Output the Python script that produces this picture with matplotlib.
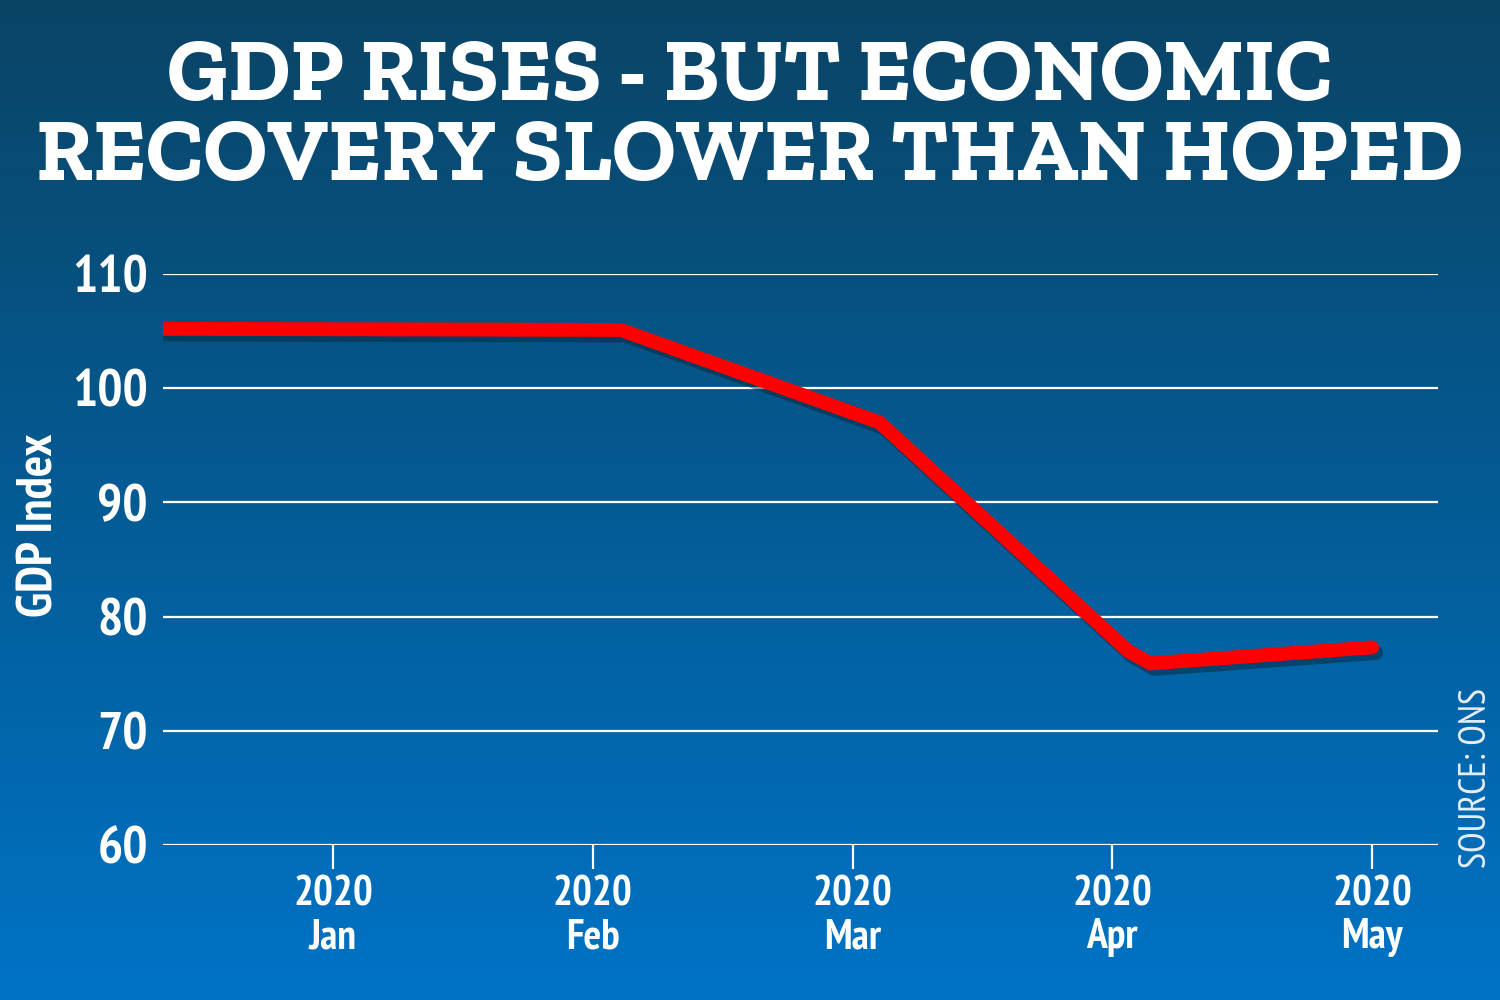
import matplotlib
matplotlib.use("Agg")
import matplotlib.pyplot as plt
import matplotlib.patheffects as pe
import numpy as np
from matplotlib.colors import LinearSegmentedColormap

# Datos (posicion en meses: 0 = Ene 2020)
months = ["Jan", "Feb", "Mar", "Apr", "May"]
years = ["2020", "2020", "2020", "2020", "2020"]
gdp_x = [-0.654, 1.108, 2.104, 3.06, 3.146, 4.0]
gdp_y = [105.2, 105.1, 97.0, 77.0, 75.9, 77.3]
y_ticks = [60, 70, 80, 90, 100, 110]

title_lines = ["GDP RISES - BUT ECONOMIC", "RECOVERY SLOWER THAN HOPED"]
narrow = ["PT Sans Narrow", "Asap Condensed", "DejaVu Sans"]
slab = ["Zilla Slab", "DejaVu Serif"]

fig = plt.figure(figsize=(15, 10), dpi=100)

# Fondo degradado
bg = fig.add_axes([0, 0, 1, 1], zorder=-1)
cmap = LinearSegmentedColormap.from_list("bg", ["#0a4465", "#045b94", "#0073c6"])
grad = np.linspace(0, 1, 256).reshape(-1, 1)
bg.imshow(grad, aspect="auto", cmap=cmap, extent=[0, 1, 0, 1], origin="upper")
bg.axis("off")

ax = fig.add_axes([0.1087, 0.155, 0.85, 0.571])
ax.patch.set_alpha(0)
for s in ax.spines.values():
    s.set_visible(False)

for v in y_ticks:
    ax.axhline(v, color="white", lw=1.6, zorder=1)

ax.plot(gdp_x, gdp_y, color="#ff0000", lw=10, solid_capstyle="round",
        solid_joinstyle="round", zorder=3,
        path_effects=[pe.SimpleLineShadow(offset=(3, -4), shadow_color="#06263c", alpha=0.5),
                      pe.Normal()])

ax.set_xlim(-0.654, 4.254)
ax.set_ylim(60, 110)
ax.set_yticks(y_ticks)
ax.set_yticklabels([str(v) for v in y_ticks], family=narrow, fontweight="bold",
                   fontsize=38, color="white")
ax.tick_params(axis="y", length=0, pad=11)
ax.set_xticks(range(len(months)))
ax.set_xticklabels([f"{y}\n{m}" for y, m in zip(years, months)], family=narrow,
                   fontweight="bold", fontsize=30, color="white", linespacing=1.12)
ax.tick_params(axis="x", length=17, width=1.6, color="white", pad=5)

fig.text(40 / 1500, 1 - 525 / 1000, "GDP Index", rotation=90, ha="center", va="center",
         family=narrow, fontweight="bold", fontsize=36, color="white")

fig.text(1477 / 1500, 1 - 778 / 1000, "SOURCE: ONS", rotation=90, ha="center", va="center",
         color="#e6eef6", family=narrow, fontsize=27)

# Titulo: se ajusta el tamano para que la segunda linea ocupe el ancho del original
t1 = fig.text(0.5, 0.90, title_lines[0], ha="center", va="baseline", color="white",
              family=slab, fontweight="bold", fontsize=60)
t2 = fig.text(0.5, 0.82, title_lines[1], ha="center", va="baseline", color="white",
              family=slab, fontweight="bold", fontsize=60)
renderer = fig.canvas.get_renderer()
w = t2.get_window_extent(renderer).width
size = 60 * 1427 / w
t1.set_fontsize(size)
t2.set_fontsize(size)

fig.savefig("out.png", dpi=100)
